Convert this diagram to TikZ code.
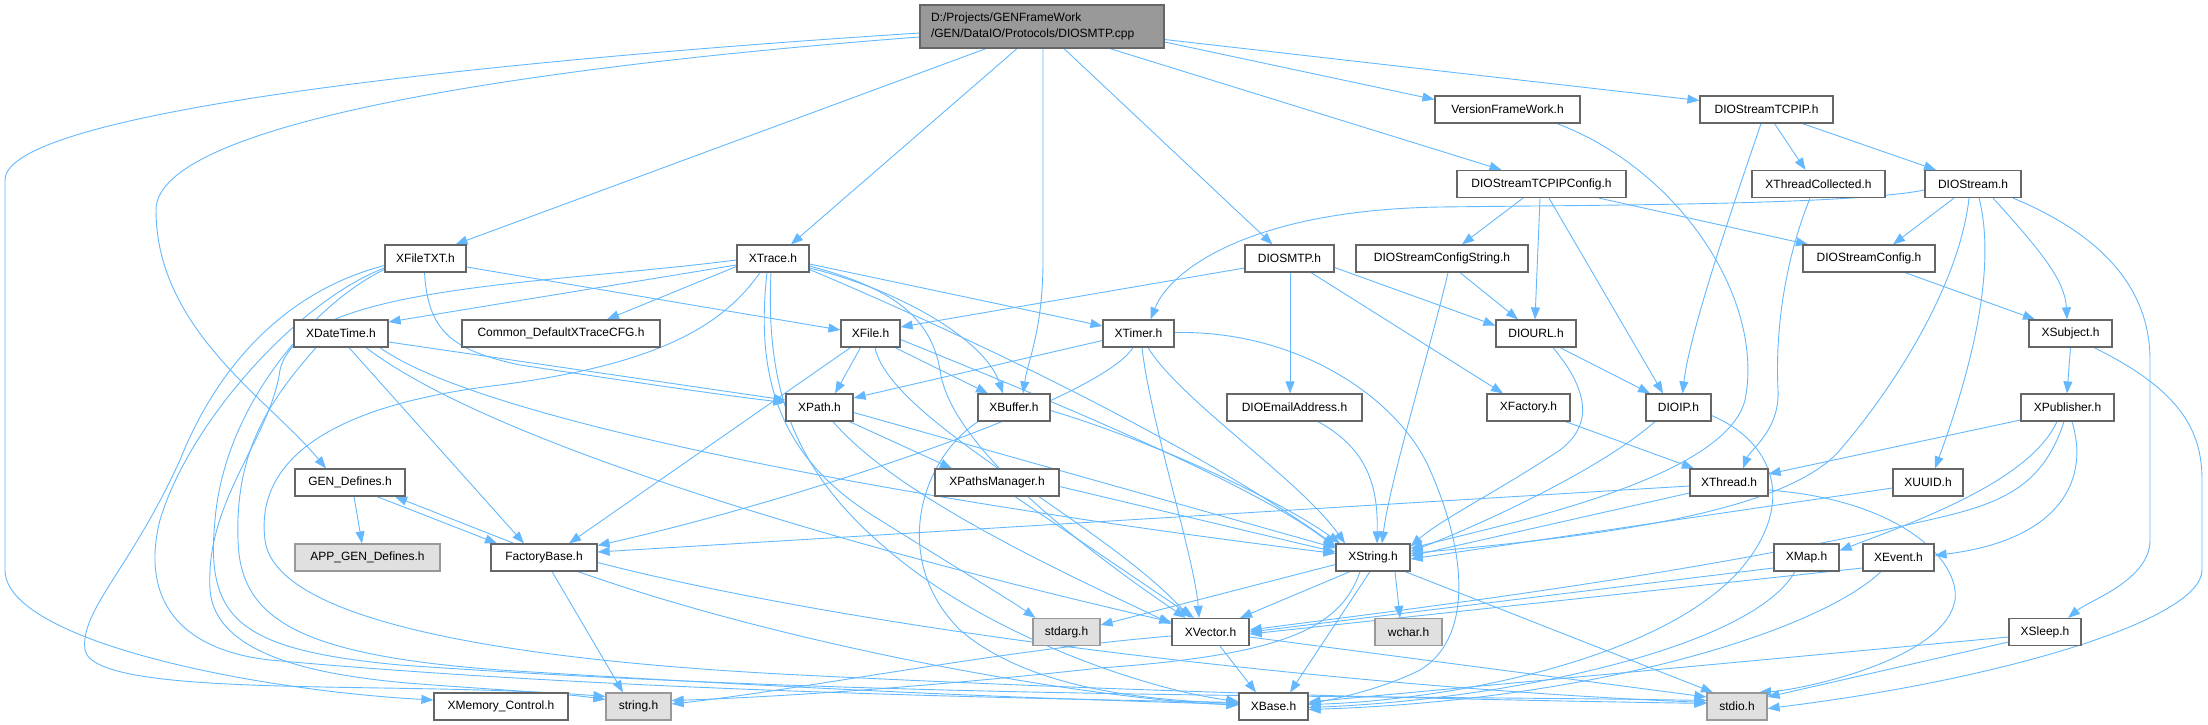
\documentclass[tikz,border=0pt]{standalone}
\usepackage{fontspec}
\setmainfont{Liberation Sans}
\usetikzlibrary{arrows.meta}
\pgfdeclarelayer{background}
\pgfsetlayers{background,main}
\definecolor{ecol}{HTML}{63B8FF}
\definecolor{nodeborder}{HTML}{666666}
\definecolor{sysborder}{HTML}{999999}
\definecolor{sysfill}{HTML}{E0E0E0}
\definecolor{rootfill}{HTML}{999999}
\tikzset{
  nb/.style={draw=nodeborder, fill=white, line width=1.2pt, inner sep=0pt, minimum height=27pt, font=\fontsize{12}{14}\selectfont},
  ns/.style={nb, draw=sysborder, fill=sysfill},
  nroot/.style={nb, fill=rootfill, font=\fontsize{12}{16}\selectfont},
  e/.style={draw=ecol, line width=0.9pt, -{Triangle[length=12pt,width=9pt]}},
}
\begin{document}
\begin{tikzpicture}[x=1pt,y=-1pt]
\useasboundingbox (0,0) rectangle (2208,725);
% nodes
\node[nroot, minimum width=244pt, minimum height=43pt, text width=222pt, align=left] (root) at (1042,26.5) {D:/Projects/GENFrameWork\\/GEN/DataIO/Protocols/DIOSMTP.cpp};
\node[nb, minimum width=145pt] (vfw) at (1507.5,109.5) {VersionFrameWork.h};
\node[nb, minimum width=133pt] (tcpip) at (1766.5,109.5) {DIOStreamTCPIP.h};
\node[nb, minimum width=169pt] (tcpipcfg) at (1541.5,184) {DIOStreamTCPIPConfig.h};
\node[nb, minimum width=133pt] (xthreadcol) at (1818.5,184) {XThreadCollected.h};
\node[nb, minimum width=96pt] (diostream) at (1973,184) {DIOStream.h};
\node[nb, minimum width=81pt] (xfiletxt) at (425.5,258.5) {XFileTXT.h};
\node[nb, minimum width=72pt] (xtrace) at (773,258.5) {XTrace.h};
\node[nb, minimum width=89pt] (diosmtp) at (1289.5,258.5) {DIOSMTP.h};
\node[nb, minimum width=172pt] (cfgstring) at (1442,258.5) {DIOStreamConfigString.h};
\node[nb, minimum width=132pt] (streamcfg) at (1869,258.5) {DIOStreamConfig.h};
\node[nb, minimum width=94pt] (xdatetime) at (341,333.5) {XDateTime.h};
\node[nb, minimum width=198pt] (common) at (561,333.5) {Common\_DefaultXTraceCFG.h};
\node[nb, minimum width=59pt] (xfile) at (870.5,333.5) {XFile.h};
\node[nb, minimum width=71pt] (xtimer) at (1138.5,333.5) {XTimer.h};
\node[nb, minimum width=80pt] (diourl) at (1536,333.5) {DIOURL.h};
\node[nb, minimum width=83pt] (xsubject) at (2070.5,333.5) {XSubject.h};
\node[nb, minimum width=67pt] (xpath) at (819.5,407.5) {XPath.h};
\node[nb, minimum width=72pt] (xbuffer) at (1014,407.5) {XBuffer.h};
\node[nb, minimum width=135pt] (email) at (1294.5,407.5) {DIOEmailAddress.h};
\node[nb, minimum width=83pt] (xfactory) at (1528.5,407.5) {XFactory.h};
\node[nb, minimum width=65pt] (dioip) at (1678.5,407.5) {DIOIP.h};
\node[nb, minimum width=93pt] (xpublisher) at (2067.5,407.5) {XPublisher.h};
\node[nb, minimum width=110pt] (gendef) at (350,482.5) {GEN\_Defines.h};
\node[nb, minimum width=124pt] (xpathsmgr) at (997,482.5) {XPathsManager.h};
\node[nb, minimum width=78pt] (xthread) at (1729,482.5) {XThread.h};
\node[nb, minimum width=70pt] (xuuid) at (1928,482.5) {XUUID.h};
\node[ns, minimum width=145pt] (appgen) at (367.5,557.5) {APP\_GEN\_Defines.h};
\node[nb, minimum width=106pt] (factory) at (544,557.5) {FactoryBase.h};
\node[nb, minimum width=74pt] (xstring) at (1373,557.5) {XString.h};
\node[nb, minimum width=65pt] (xmap) at (1806.5,557.5) {XMap.h};
\node[nb, minimum width=71pt] (xevent) at (1898.5,557.5) {XEvent.h};
\node[ns, minimum width=67pt] (stdarg) at (1066.5,632) {stdarg.h};
\node[nb, minimum width=77pt] (xvector) at (1210.5,632) {XVector.h};
\node[ns, minimum width=67pt] (wchar) at (1408.5,632) {wchar.h};
\node[nb, minimum width=72pt] (xsleep) at (2045,632) {XSleep.h};
\node[nb, minimum width=134pt] (xmemory) at (501,706.5) {XMemory\_Control.h};
\node[ns, minimum width=65pt] (stringh) at (638.5,706.5) {string.h};
\node[nb, minimum width=69pt] (xbase) at (1273.5,706.5) {XBase.h};
\node[ns, minimum width=60pt] (stdio) at (1737,706.5) {stdio.h};

\begin{pgfonlayer}{background}
% root
\draw[e] ([yshift=-6.5pt]root.west) .. controls (500,60) and (5,110) .. (5,180) -- (5,570) .. controls (5,640) and (250,690) .. ([yshift=6.5pt]xmemory.west);
\draw[e] ([yshift=-10.5pt]root.west) .. controls (550,65) and (156,120) .. (156,210) .. controls (156,330) and (270,400) .. ([xshift=-24pt]gendef.north);
\draw[e] ([xshift=-56pt]root.south) -- ([xshift=30pt]xfiletxt.north);
\draw[e] ([xshift=-25pt]root.south) -- ([xshift=18pt]xtrace.north);
\draw[e] ([xshift=1pt]root.south) -- (1043,260) .. controls (1043,330) and (1028,360) .. ([xshift=9pt]xbuffer.north);
\draw[e] ([xshift=22pt]root.south) -- ([xshift=-17pt]diosmtp.north);
\draw[e] ([xshift=68pt]root.south) -- ([xshift=-40pt]tcpipcfg.north);
\draw[e] ([yshift=-15.5pt]root.east) -- ([yshift=10pt]vfw.west);
\draw[e] ([yshift=-13pt]root.east) -- ([yshift=9pt]tcpip.west);
% upper right
\draw[e] ([xshift=49.5pt]vfw.south) .. controls (1680,170) and (1765,300) .. (1745,400) .. controls (1725,480) and (1500,525) .. ([yshift=9pt]xstring.east);
\draw[e] ([xshift=-5.5pt]tcpip.south) .. controls (1735,200) and (1690,330) .. ([xshift=4pt]dioip.north);
\draw[e] ([xshift=8pt]tcpip.south) -- ([xshift=-13pt]xthreadcol.north);
\draw[e] ([xshift=36pt]tcpip.south) -- ([xshift=-37pt]diostream.north);
\draw[e] ([xshift=-18.5pt]tcpipcfg.south) -- ([xshift=20pt]cfgstring.north);
\draw[e] ([xshift=-1.5pt]tcpipcfg.south) -- ([xshift=-1pt]diourl.north);
\draw[e] ([xshift=7.5pt]tcpipcfg.south) -- ([xshift=-15.5pt]dioip.north);
\draw[e] ([xshift=57.5pt]tcpipcfg.south) -- ([xshift=-61pt]streamcfg.north);
\draw[e] ([xshift=-8.5pt]xthreadcol.south) .. controls (1785,260) and (1775,330) .. (1778,390) .. controls (1780,430) and (1750,450) .. ([xshift=14pt]xthread.north);
\draw[e] ([yshift=-6pt]diostream.west) .. controls (1850,205) and (1600,205) .. (1440,207) .. controls (1250,210) and (1170,270) .. ([xshift=12pt]xtimer.north);
\draw[e] ([xshift=-19pt]diostream.south) -- ([xshift=24pt]streamcfg.north);
\draw[e] ([xshift=-4pt]diostream.south) .. controls (1960,280) and (1900,380) .. (1840,450) .. controls (1780,520) and (1550,540) .. ([yshift=4pt]xstring.east);
\draw[e] ([xshift=6pt]diostream.south) .. controls (2000,280) and (1960,400) .. ([xshift=7pt]xuuid.north);
\draw[e] ([xshift=20pt]diostream.south) .. controls (2040,250) and (2065,280) .. ([xshift=-3.5pt]xsubject.north);
\draw[e] ([xshift=40pt]diostream.south) .. controls (2090,230) and (2150,280) .. (2150,360) -- (2150,540) .. controls (2150,580) and (2090,600) .. ([xshift=23pt]xsleep.north);
\draw[e] ([xshift=18pt]cfgstring.south) -- ([xshift=-18pt]diourl.north);
\draw[e] ([xshift=6pt]cfgstring.south) .. controls (1430,350) and (1390,480) .. ([xshift=9pt]xstring.north);
\draw[e] ([xshift=36pt]streamcfg.south) -- ([xshift=-35.5pt]xsubject.north);
\draw[e] ([yshift=-9.5pt]diosmtp.west) -- ([yshift=6.5pt]xfile.east);
\draw[e] ([xshift=0.5pt]diosmtp.south) -- ([xshift=-4.5pt]email.north);
\draw[e] ([xshift=21.5pt]diosmtp.south) -- ([xshift=-25.5pt]xfactory.north);
\draw[e] ([yshift=-9pt]diosmtp.east) -- ([yshift=8pt]diourl.west);
\draw[e] ([xshift=24pt]diourl.south) -- ([xshift=-28.5pt]dioip.north);
\draw[e] ([xshift=17pt]diourl.south) .. controls (1580,380) and (1600,420) .. (1560,450) .. controls (1500,490) and (1440,520) .. ([yshift=11pt]xstring.east);
\draw[e] (xsubject.south) -- ([xshift=-0.5pt]xpublisher.north);
\draw[e] ([xshift=23.5pt]xsubject.south) .. controls (2180,390) and (2202,430) .. (2202,480) -- (2202,570) .. controls (2202,620) and (2000,680) .. ([yshift=-2pt]stdio.east);
\draw[e] ([yshift=-12.5pt]xpublisher.west) -- ([yshift=8.5pt]xthread.east);
\draw[e] ([xshift=-10.5pt]xpublisher.south) .. controls (2030,480) and (1920,520) .. ([yshift=7pt]xmap.east);
\draw[e] ([xshift=4.5pt]xpublisher.south) .. controls (2090,480) and (2060,540) .. ([yshift=2pt]xevent.east);
\draw[e] ([xshift=-3.5pt]xpublisher.south) .. controls (2045,480) and (2010,500) .. (1950,515) .. controls (1700,575) and (1400,610) .. ([yshift=2pt]xvector.east);
\draw[e] ([xshift=37pt]xfactory.south) -- ([xshift=-35pt]xthread.north);
\draw[e] ([xshift=-23.5pt]dioip.south) .. controls (1600,470) and (1480,525) .. ([yshift=6pt]xstring.east);
\draw[e] ([yshift=-8pt]dioip.east) .. controls (1770,440) and (1800,500) .. (1740,570) .. controls (1660,660) and (1450,700) .. ([yshift=2pt]xbase.east);
\draw[e] ([yshift=-3.5pt]xthread.west) -- ([yshift=5.5pt]factory.east);
\draw[e] ([yshift=-10.5pt]xthread.west) -- ([yshift=1.5pt]xstring.east);
\draw[e] ([yshift=-7.5pt]xthread.east) .. controls (1900,500) and (1960,560) .. (1955,600) .. controls (1945,660) and (1800,690) .. ([xshift=22pt]stdio.north);
\draw[e] ([yshift=-5.5pt]xuuid.west) -- ([yshift=-1.5pt]xstring.east);
\draw[e] ([yshift=-10.5pt]xmap.west) -- (xvector.east);
\draw[e] ([xshift=-11.5pt]xmap.south) .. controls (1750,650) and (1500,700) .. ([yshift=-1pt]xbase.east);
\draw[e] ([yshift=-10.5pt]xevent.west) -- ([yshift=-2pt]xvector.east);
\draw[e] ([xshift=-17.5pt]xevent.south) .. controls (1820,630) and (1600,700) .. ([yshift=-3pt]xbase.east);
\draw[e] ([yshift=-10pt]xsleep.west) -- ([yshift=9.5pt]stdio.east);
\draw[e] ([yshift=-5pt]xsleep.west) -- ([yshift=4.5pt]xbase.east);
\draw[e] ([xshift=23.5pt]email.south) .. controls (1370,450) and (1378,490) .. ([xshift=4pt]xstring.north);
% left part
\draw[e] ([yshift=-8.5pt]xfiletxt.east) -- ([yshift=3.5pt]xfile.west);
\draw[e] ([xshift=-1pt]xfiletxt.south) .. controls (428,330) and (450,350) .. (520,365) .. controls (620,380) and (720,395) .. ([yshift=5pt]xpath.west);
\draw[e] ([yshift=-7pt]xfiletxt.west) .. controls (290,290) and (220,360) .. (180,460) .. controls (130,570) and (80,610) .. (85,650) .. controls (95,700) and (400,680) .. ([yshift=10pt]stringh.west);
\draw[e] ([yshift=-9.5pt]xfiletxt.west) .. controls (300,300) and (190,420) .. (160,520) .. controls (140,600) and (180,650) .. (270,660) .. controls (600,690) and (1000,698) .. ([yshift=4pt]xbase.west);
\draw[e] ([yshift=-11pt]xfiletxt.west) .. controls (320,300) and (225,400) .. (215,520) .. controls (205,620) and (240,650) .. (400,665) .. controls (900,700) and (1400,695) .. ([yshift=6pt]stdio.west);
\draw[e] ([yshift=-6.5pt]xtrace.west) -- ([yshift=11.5pt]xdatetime.east);
\draw[e] ([yshift=-8pt]xtrace.west) -- ([xshift=46pt]common.north);
\draw[e] ([yshift=-5.5pt]xtrace.east) -- ([yshift=7.5pt]xtimer.west);
\draw[e] ([yshift=-9.5pt]xtrace.east) .. controls (900,290) and (985,340) .. ([xshift=-11pt]xbuffer.north);
\draw[e] ([yshift=-7.5pt]xtrace.east) .. controls (880,285) and (930,310) .. (940,370) .. controls (950,450) and (1100,560) .. ([xshift=-25pt]xvector.north);
\draw[e] ([yshift=-11pt]xtrace.east) .. controls (1000,350) and (1200,450) .. ([yshift=12pt]xstring.west);
\draw[e] ([xshift=-6pt]xtrace.south) .. controls (755,380) and (780,460) .. (880,520) .. controls (960,570) and (1010,600) .. ([xshift=-31pt]stdarg.north);
\draw[e] ([xshift=-2pt]xtrace.south) .. controls (765,400) and (800,480) .. (900,560) .. controls (1000,640) and (1150,690) .. ([yshift=5pt]xbase.west);
\draw[e] ([yshift=-1.5pt]xtrace.west) .. controls (540,285) and (300,285) .. (280,370) .. controls (270,440) and (205,500) .. (210,590) .. controls (215,650) and (300,675) .. (420,684) .. controls (500,690) and (560,693) .. ([yshift=7pt]stringh.west);
\draw[e] ([xshift=-13pt]xtrace.south) .. controls (720,330) and (650,365) .. (500,385) .. controls (330,405) and (255,460) .. (265,540) .. controls (275,620) and (500,660) .. (800,675) .. controls (1200,695) and (1500,700) .. ([yshift=3pt]stdio.west);
\draw[e] ([yshift=-8.5pt]xdatetime.east) -- ([yshift=7.5pt]xpath.west);
\draw[e] ([xshift=8pt]xdatetime.south) -- ([xshift=-20pt]factory.north);
\draw[e] ([xshift=25pt]xdatetime.south) .. controls (500,450) and (900,560) .. ([yshift=10pt]xvector.west);
\draw[e] ([xshift=39pt]xdatetime.south) .. controls (480,420) and (900,500) .. ([yshift=4pt]xstring.west);
\draw[e] ([xshift=-25pt]xdatetime.south) .. controls (270,400) and (235,450) .. (238,540) .. controls (240,620) and (300,655) .. (500,670) .. controls (900,695) and (1100,700) .. ([yshift=2pt]xbase.west);
\draw[e] ([xshift=-10pt]xfile.south) -- ([xshift=15.5pt]xpath.north);
\draw[e] ([xshift=24.5pt]xfile.south) -- ([xshift=-26pt]xbuffer.north);
\draw[e] ([xshift=-20pt]xfile.south) -- ([xshift=25pt]factory.north);
\draw[e] ([xshift=4.5pt]xfile.south) .. controls (890,420) and (1100,520) .. ([xshift=-20pt]xvector.north);
\draw[e] ([yshift=-6pt]xfile.east) .. controls (1000,380) and (1250,480) .. ([yshift=10pt]xstring.west);
\draw[e] ([yshift=-7pt]xtimer.west) -- ([yshift=9.5pt]xpath.east);
\draw[e] ([xshift=-5.5pt]xtimer.south) .. controls (1100,400) and (800,500) .. ([yshift=12pt]factory.east);
\draw[e] ([xshift=3.5pt]xtimer.south) .. controls (1150,420) and (1195,560) .. ([xshift=-11.5pt]xvector.north);
\draw[e] ([xshift=9.5pt]xtimer.south) .. controls (1180,400) and (1300,480) .. ([xshift=-28pt]xstring.north);
\draw[e] ([yshift=1pt]xtimer.east) .. controls (1300,330) and (1400,400) .. (1430,470) .. controls (1470,560) and (1470,640) .. (1420,670) .. controls (1380,690) and (1330,700) .. ([yshift=3pt]xbase.east);
\draw[e] ([xshift=30pt]xpath.south) -- ([xshift=-45pt]xpathsmgr.north);
\draw[e] ([yshift=-5pt]xpath.east) -- ([yshift=9.5pt]xstring.west);
\draw[e] ([xshift=13.5pt]xpath.south) .. controls (900,500) and (1080,580) .. ([yshift=8pt]xvector.west);
\draw[e] ([yshift=-3pt]xbuffer.east) .. controls (1150,440) and (1280,500) .. ([xshift=-33pt]xstring.north);
\draw[e] ([xshift=-36pt]xbuffer.south) .. controls (920,460) and (890,560) .. (960,630) .. controls (1030,690) and (1150,700) .. ([yshift=3pt]xbase.west);
\draw[e] ([yshift=-4pt]xpathsmgr.east) -- ([yshift=5.5pt]xstring.west);
\draw[e] ([xshift=18pt]xpathsmgr.south) -- ([xshift=-16.5pt]xvector.north);
\draw[e] ([xshift=4pt]gendef.south) -- ([xshift=-5.5pt]appgen.north);
\draw[e] ([xshift=27pt]gendef.south) -- ([xshift=-47pt]factory.north);
\draw[e] ([xshift=-30pt]factory.north) -- ([xshift=45pt]gendef.south);
\draw[e] ([xshift=8pt]factory.south) -- ([xshift=-15.5pt]stringh.north);
\draw[e] ([xshift=34pt]factory.south) .. controls (800,650) and (1100,700) .. ([yshift=1.5pt]xbase.west);
\draw[e] ([yshift=-5pt]factory.east) .. controls (900,640) and (1400,690) .. ([yshift=4pt]stdio.west);
% XString / XVector
\draw[e] ([yshift=-7pt]xstring.west) -- ([yshift=7pt]stdarg.east);
\draw[e] ([xshift=-23pt]xstring.south) -- ([xshift=29.5pt]xvector.north);
\draw[e] ([xshift=22pt]xstring.south) -- ([xshift=-8.5pt]wchar.north);
\draw[e] ([xshift=-3pt]xstring.south) -- ([xshift=16.5pt]xbase.north);
\draw[e] ([xshift=32pt]xstring.south) -- ([xshift=-24pt]stdio.north);
\draw[e] ([xshift=-13pt]xstring.south) .. controls (1340,630) and (1280,655) .. (1100,668) .. controls (900,690) and (750,698) .. ([yshift=6pt]stringh.east);
\draw[e] ([xshift=9.5pt]xvector.south) -- ([xshift=-17.5pt]xbase.north);
\draw[e] ([yshift=-5pt]xvector.east) -- ([yshift=9.5pt]stdio.west);
\draw[e] ([yshift=-4pt]xvector.west) .. controls (1000,650) and (800,690) .. ([yshift=2.5pt]stringh.east);
\end{pgfonlayer}
\end{tikzpicture}
\end{document}
